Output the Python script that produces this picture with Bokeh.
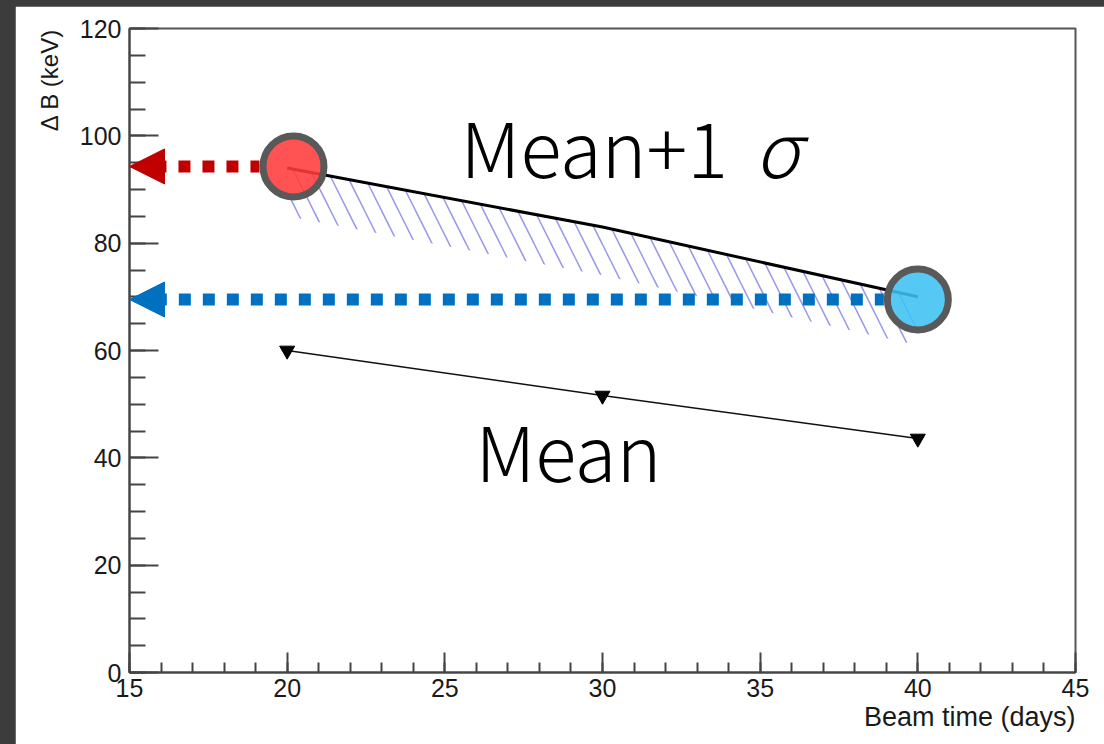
import numpy as np
from bokeh.plotting import figure
from bokeh.models import Label, Arrow, NormalHead, SingleIntervalTicker, Range1d, Spacer, Title
from bokeh.layouts import column, row
from bokeh.embed import file_html
from bokeh.resources import INLINE

# ---- data ----
days = [20, 30, 40]
mean_kev = [60.0, 51.6, 43.6]
mean_sigma_kev = [94.0, 83.0, 70.0]
band_depth = 9.0  # hatched exclusion band below Mean+1 sigma curve
highlight_x = [20.2, 40.0]
highlight_y = [94.3, 69.5]
highlight_colors = ["#FF3B3B", "#3DC1F3"]
arrow_colors = ["#C00000", "#0070C0"]
x_ticks = [15, 20, 25, 30, 35, 40, 45]
y_ticks = [0, 20, 40, 60, 80, 100, 120]

AX = "#444444"
TXT = "#1a1a1a"
CIRCLE_R_DAYS = 34 / 31.53  # circle outer radius expressed in x data units

p = figure(width=1089, height=738, output_backend="svg", toolbar_location=None,
           x_range=Range1d(15, 45), y_range=Range1d(0, 120),
           min_border_left=114, min_border_top=22, min_border_right=29, min_border_bottom=72,
           border_fill_color="white", background_fill_color="white")
p.outline_line_color = "#555555"
p.outline_line_width = 2
p.xgrid.visible = False
p.ygrid.visible = False

xa = p.xaxis[0]
xa.ticker = SingleIntervalTicker(interval=5, num_minor_ticks=5)
xa.major_tick_in = 20
xa.major_tick_out = 0
xa.minor_tick_in = 10
xa.minor_tick_out = 0
xa.major_label_standoff = 6
ya = p.yaxis[0]
ya.ticker = SingleIntervalTicker(interval=20, num_minor_ticks=4)
ya.major_tick_in = 29
ya.major_tick_out = 0
ya.minor_tick_in = 16
ya.minor_tick_out = 0
ya.major_label_standoff = 8
for ax in (xa, ya):
    ax.axis_line_color = AX
    ax.axis_line_width = 2
    ax.major_tick_line_color = AX
    ax.major_tick_line_width = 2
    ax.minor_tick_line_color = AX
    ax.minor_tick_line_width = 2
    ax.major_label_text_font = "Liberation Sans"
    ax.major_label_text_font_size = "25px"
    ax.major_label_text_color = TXT

# axis titles (right/top aligned, ROOT style)
p.add_layout(Title(text="Beam time (days)", align="right", text_font="Liberation Sans",
                   text_font_size="27px", text_font_style="normal", text_color=TXT,
                   standoff=0), "below")
p.add_layout(Title(text="Δ B (keV)", align="right", text_font="Liberation Sans",
                   text_font_size="24px", text_font_style="normal", text_color=TXT,
                   standoff=28), "left")

# hatched band under Mean+1 sigma
lower = [v - band_depth for v in mean_sigma_kev]
p.varea(x=days, y1=lower, y2=mean_sigma_kev, fill_color=None, fill_alpha=0,
        hatch_pattern="\\", hatch_scale=34, hatch_weight=1.5,
        hatch_color="#8c8ce8", hatch_alpha=0.9)

# Mean+1 sigma curve
p.line(days, mean_sigma_kev, line_color="black", line_width=3)

# Mean curve with markers
p.line(days, mean_kev, line_color="#111111", line_width=1.5)
p.scatter(days, mean_kev, marker="inverted_triangle", size=15, fill_color="black", line_color="black")

# dotted arrows to the axis (start at the circle edge)
for hx, hy, c in zip(highlight_x, highlight_y, arrow_colors):
    p.add_layout(Arrow(end=NormalHead(size=35, fill_color=c, line_color=c, line_width=1),
                       x_start=hx - CIRCLE_R_DAYS, y_start=hy, x_end=15, y_end=hy,
                       line_color=c, line_width=12, line_dash="12 12", line_dash_offset=3))

# highlight circles
p.scatter(highlight_x, highlight_y, marker="circle", size=61, fill_color=highlight_colors,
          fill_alpha=0.88, line_color="#595959", line_width=7)

# big annotations
BIGFONT = "'Noto Sans CJK JP Light', 'Noto Sans CJK JP DemiLight', 'Noto Sans CJK JP'"
p.add_layout(Label(x=25.5, y=98.3, text="Mean+1", text_font=BIGFONT,
                   text_font_size="76px", text_color="black", text_baseline="alphabetic"))
p.add_layout(Label(x=34.83, y=98.3, text="σ", text_font=BIGFONT, text_font_style="italic",
                   text_font_size="76px", text_color="black", text_baseline="alphabetic"))
p.add_layout(Label(x=25.97, y=41.6, text="Mean", text_font=BIGFONT,
                   text_font_size="76px", text_color="black", text_baseline="alphabetic"))

DARK = {"background-color": "#3c3c3c"}
layout = column(Spacer(width=1104, height=6, styles=DARK),
                row(Spacer(width=15, height=738, styles=DARK), p, styles=DARK),
                styles=DARK)

open("out.html", "w").write(file_html(layout, INLINE))
